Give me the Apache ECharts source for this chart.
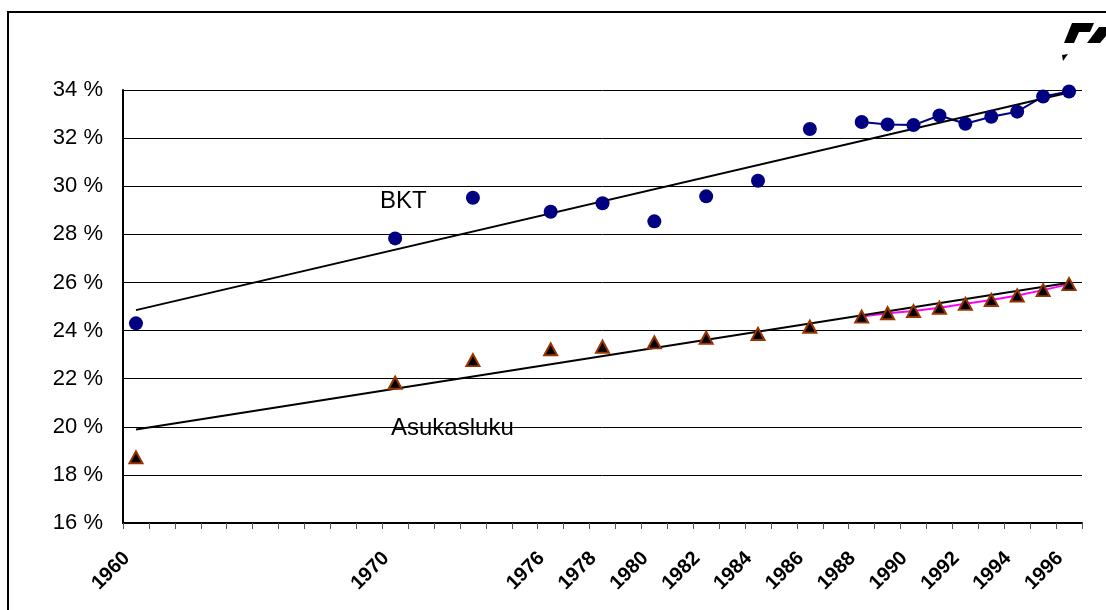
<!DOCTYPE html>
<html>
<head>
<meta charset="utf-8">
<script src="https://cdn.jsdelivr.net/npm/echarts@6/dist/echarts.min.js"></script>
<style>html,body{margin:0;padding:0;background:#fff;}#c{width:1106px;height:610px;}</style>
</head>
<body>
<div id="c"></div>
<script>
var years = ['1960','1961','1962','1963','1964','1965','1966','1967','1968','1969',
             '1970','1971','1972','1973','1974','1975','1976','1977','1978','1979',
             '1980','1981','1982','1983','1984','1985','1986','1987','1988','1989',
             '1990','1991','1992','1993','1994','1995','1996'];
var labelYears = ['1960','1970','1976','1978','1980','1982','1984','1986','1988','1990','1992','1994','1996'];
var bkt = [24.30,null,null,null,null,null,null,null,null,null,
           27.83,null,null,29.52,null,null,28.94,null,29.29,null,
           28.54,null,29.58,null,30.23,null,32.38,null,32.67,32.57,
           32.54,32.94,32.60,32.89,33.10,33.73,33.94];
var asukasluku = [18.73,null,null,null,null,null,null,null,null,null,
           21.83,null,null,22.77,null,null,23.22,null,23.33,null,
           23.51,null,23.70,null,23.86,null,24.16,null,24.58,24.72,
           24.81,24.95,25.11,25.27,25.46,25.68,25.93];
var trendBkt = [['1960',24.85],['1996',33.90]];
var trendAsukas = [['1960',19.89],['1996',25.99]];
var yTicks = {min:16, max:34, interval:2};

var font = 'Liberation Sans, Arial, sans-serif';
var chart = echarts.init(document.getElementById('c'));
chart.setOption({
  animation:false,
  backgroundColor:'#fff',
  grid:{left:123, right:24, top:90, bottom:87, containLabel:false},
  xAxis:{
    type:'category', data:years, boundaryGap:true,
    axisLine:{lineStyle:{color:'#000', width:2}},
    axisTick:{show:true, interval:0, length:6, lineStyle:{color:'#555', width:1}},
    axisLabel:{interval:0, rotate:45, margin:23, fontFamily:font, fontSize:20, fontWeight:'bold', color:'#000',
      padding:[0,13,17,0],
      formatter:function(v){ return labelYears.indexOf(v) >= 0 ? v : ''; }},
    splitLine:{show:false}
  },
  yAxis:{
    type:'value', min:yTicks.min, max:yTicks.max, interval:yTicks.interval,
    axisLine:{show:true, lineStyle:{color:'#000', width:2}},
    axisTick:{show:false},
    axisLabel:{margin:20, fontFamily:font, fontSize:22, color:'#000', formatter:'{value} %'},
    splitLine:{show:true, lineStyle:{color:'#000', width:1}}
  },
  graphic:[
    {type:'rect', shape:{x:8,y:12,width:1110,height:620}, style:{fill:'none', stroke:'#000', lineWidth:2}, z:0},
    {type:'text', left:380, top:189, style:{text:'BKT', font:'24px '+font, fill:'#000'}, z:10},
    {type:'text', left:391, top:416, style:{text:'Asukasluku', font:'24px '+font, fill:'#000'}, z:10},
    {type:'polygon', shape:{points:[[1064,43],[1072,23],[1094,23],[1090,32],[1079,32],[1074,43]]}, style:{fill:'#000'}, z:10},
    {type:'polygon', shape:{points:[[1087,43],[1099,27],[1106,27],[1106,36],[1100,43]]}, style:{fill:'#000'}, z:10},
    {type:'polygon', shape:{points:[[1062,55],[1068,54],[1063,61]]}, style:{fill:'#000'}, z:10}
  ],
  series:[
    {type:'line', data:bkt, symbol:'none', connectNulls:false, lineStyle:{color:'#000080', width:2}, z:2},
    {type:'line', data:asukasluku, symbol:'none', connectNulls:false, lineStyle:{color:'#ff00ff', width:2}, z:2},
    {type:'line', data:trendBkt, symbol:'none', lineStyle:{color:'#000', width:2}, z:3},
    {type:'line', data:trendAsukas, symbol:'none', lineStyle:{color:'#000', width:2}, z:3},
    {type:'scatter', data:bkt, symbol:'circle', symbolSize:14, itemStyle:{color:'#000080', opacity:1}, z:4},
    {type:'scatter', data:asukasluku, symbol:'triangle', symbolSize:[13,12], itemStyle:{color:'#000', borderColor:'#993300', borderWidth:2, opacity:1}, z:4}
  ]
});
</script>
</body>
</html>
